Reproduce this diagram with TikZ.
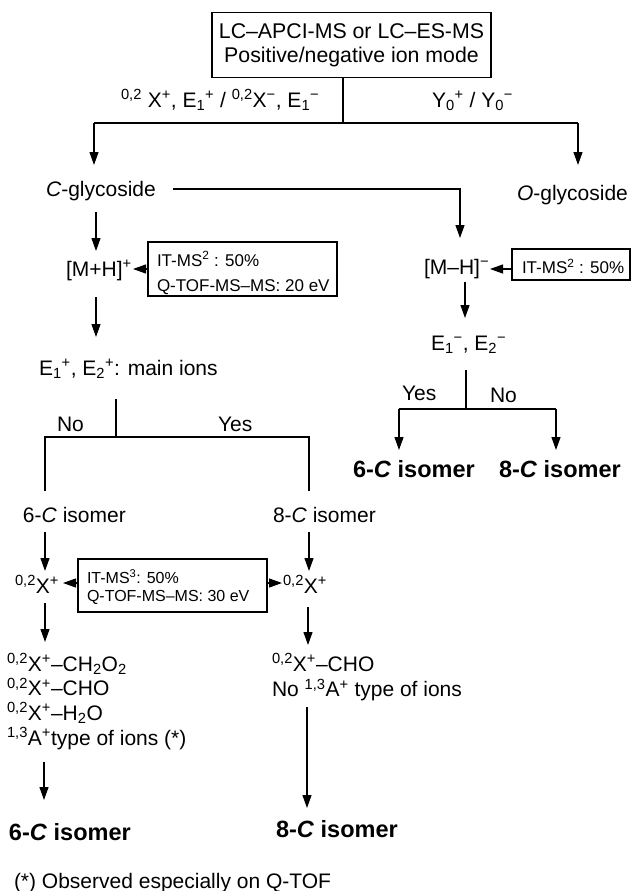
\documentclass[tikz,border=0pt]{standalone}
\usepackage{fontspec}
\setmainfont{Liberation Sans}
\usetikzlibrary{arrows.meta}
\newcommand\sps[1]{\textsuperscript{#1}}
\newcommand\sbs[1]{\textsubscript{#1}}
\begin{document}
\begin{tikzpicture}[x=1pt,y=-1pt,line width=1.2pt,
  arr/.style={-{Triangle[length=13pt,width=9pt]}},
  txt/.style={inner sep=0pt,outer sep=0pt,anchor=base west,font=\fontsize{21}{26}\selectfont},
  big/.style={inner sep=0pt,outer sep=0pt,anchor=base west,font=\fontsize{23.5}{28}\selectfont\bfseries},
  sm/.style={inner sep=0pt,outer sep=0pt,anchor=base west,font=\fontsize{17}{20}\selectfont},
  xs/.style={inner sep=0pt,outer sep=0pt,anchor=base west,font=\fontsize{16}{18}\selectfont},
  box/.style={draw,inner sep=0pt,outer sep=0pt}]
\useasboundingbox (0,0) rectangle (633,891);

% top box
\node[draw,inner sep=0pt,outer sep=0pt,minimum width=279pt,minimum height=65pt,align=center,
      font=\fontsize{21.3}{24}\selectfont] (top) at (351.5,45) {LC–APCI-MS or LC–ES-MS\\Positive/negative ion mode};
\coordinate (j1) at (343,123);
\coordinate (jl) at (94,123);
\coordinate (jr) at (578,123);
\coordinate (cgin) at (94,165);
\coordinate (ogin) at (578,165);
\draw (top.south -| j1) -- (j1);
\draw (jl) -- (jr);
\draw[arr] (jl) -- (cgin);
\draw[arr] (jr) -- (ogin);
\node[txt] (lab1) at (121,107) {\sps{0,2} X\sps{+}, E\sbs{1}\sps{+} / \sps{0,2}X\sps{−}, E\sbs{1}\sps{−}};
\node[txt] (lab2) at (432,107) {Y\sbs{0}\sps{+} / Y\sbs{0}\sps{−}};

% glycosides
\node[txt] (cg) at (46,196) {\textit{C}-glycoside};
\node[txt] (og) at (517,200) {\textit{O}-glycoside};

% C-glycoside positive branch
\node[txt] (mh) at (66,276) {[M+H]\sps{+}};
\coordinate (a1s) at (96,212); \coordinate (a1e) at (96,251);
\draw[arr] (a1s) -- (a1e);
\node[box,minimum width=189pt,minimum height=54pt] (b1) at (242.5,269) {};
\node[sm] (b1t1) at (157,266) {IT-MS\sps{2} : 50\%};
\node[sm] (b1t2) at (157,291.5) {Q-TOF-MS–MS: 20 eV};
\coordinate (mhin) at (133,269);
\draw[arr] (b1.west) -- (mhin);
\coordinate (a2s) at (96,297); \coordinate (a2e) at (96,337);
\draw[arr] (a2s) -- (a2e);
\node[txt] (ep) at (39,375) {E\sbs{1}\sps{+}, E\sbs{2}\sps{+}: main ions};

% split No / Yes
\coordinate (s1) at (116,399); \coordinate (s2) at (116,437);
\coordinate (sl) at (45,437); \coordinate (sr) at (309,437);
\coordinate (slb) at (45,491); \coordinate (srb) at (309,491);
\draw (s1) -- (s2);
\draw (slb) -- (sl) -- (sr) -- (srb);
\node[txt] (no1) at (57,431) {No};
\node[txt] (yes1) at (218,431) {Yes};
\node[txt] (i6) at (23,522) {6-\textit{C} isomer};
\node[txt] (i8) at (273,522) {8-\textit{C} isomer};
\coordinate (a3s) at (45,532); \coordinate (a3e) at (45,571);
\coordinate (a4s) at (309,532); \coordinate (a4e) at (309,571);
\draw[arr] (a3s) -- (a3e);
\draw[arr] (a4s) -- (a4e);
\node[txt] (xl) at (15,593) {\sps{0,2}X\sps{+}};
\node[txt] (xr) at (283,593) {\sps{0,2}X\sps{+}};
\node[box,minimum width=189pt,minimum height=53pt] (b3) at (172.5,585.5) {};
\node[xs] (b3t1) at (87,583.3) {IT-MS\sps{3}: 50\%};
\node[xs] (b3t2) at (87,601) {Q-TOF-MS–MS: 30 eV};
\coordinate (b3l) at (78,583); \coordinate (xlin) at (63,583);
\coordinate (b3r) at (267,583); \coordinate (xrin) at (282,583);
\draw[arr] (b3l) -- (xlin);
\draw[arr] (b3r) -- (xrin);
\coordinate (a5s) at (45,603); \coordinate (a5e) at (45,642);
\coordinate (a6s) at (308,607); \coordinate (a6e) at (308,645);
\draw[arr] (a5s) -- (a5e);
\draw[arr] (a6s) -- (a6e);
\node[txt] (l1) at (7,671.5) {\sps{0,2}X\sps{+}–CH\sbs{2}O\sbs{2}};
\node[txt] (l2) at (7,695.7) {\sps{0,2}X\sps{+}–CHO};
\node[txt] (l3) at (7,720) {\sps{0,2}X\sps{+}–H\sbs{2}O};
\node[txt] (l4) at (7,745) {\sps{1,3}A\sps{+}type of ions (*)};
\node[txt] (r1) at (272,671) {\sps{0,2}X\sps{+}–CHO};
\node[txt] (r2) at (272,696.7) {No \sps{1,3}A\sps{+} type of ions};
\coordinate (a7s) at (44,762); \coordinate (a7e) at (44,800);
\coordinate (a8s) at (307,707); \coordinate (a8e) at (307,808);
\draw[arr] (a7s) -- (a7e);
\draw[arr] (a8s) -- (a8e);
\node[big] (f6) at (9,840) {6-\textit{C} isomer};
\node[big] (f8) at (276,837) {8-\textit{C} isomer};
\node[txt] (foot) at (14,888) {(*) Observed especially on Q-TOF};

% negative branch
\coordinate (h0) at (173,189); \coordinate (h1) at (460,189); \coordinate (mmin) at (460,238);
\draw[arr] (h0) -- (h1) -- (mmin);
\node[txt] (mm) at (424,274) {[M–H]\sps{−}};
\node[box,minimum width=118pt,minimum height=31pt] (b2) at (571,264.5) {};
\node[sm] (b2t) at (522,273.5) {IT-MS\sps{2} : 50\%};
\coordinate (b2l) at (512,269); \coordinate (mmr) at (490,269);
\draw[arr] (b2l) -- (mmr);
\coordinate (a9s) at (465,282); \coordinate (a9e) at (465,318);
\draw[arr] (a9s) -- (a9e);
\node[txt] (em) at (431,350) {E\sbs{1}\sps{−}, E\sbs{2}\sps{−}};
\coordinate (t1) at (466,370); \coordinate (t2) at (466,409);
\coordinate (tl) at (399,409); \coordinate (tr) at (556,409);
\coordinate (tlb) at (399,450); \coordinate (trb) at (556,450);
\draw (t1) -- (t2);
\draw (tl) -- (tr);
\draw[arr] (tl) -- (tlb);
\draw[arr] (tr) -- (trb);
\node[txt] (yes2) at (402,400) {Yes};
\node[txt] (no2) at (490,402) {No};
\node[big] (g6) at (353,477) {6-\textit{C} isomer};
\node[big] (g8) at (499,477) {8-\textit{C} isomer};
\end{tikzpicture}
\end{document}
